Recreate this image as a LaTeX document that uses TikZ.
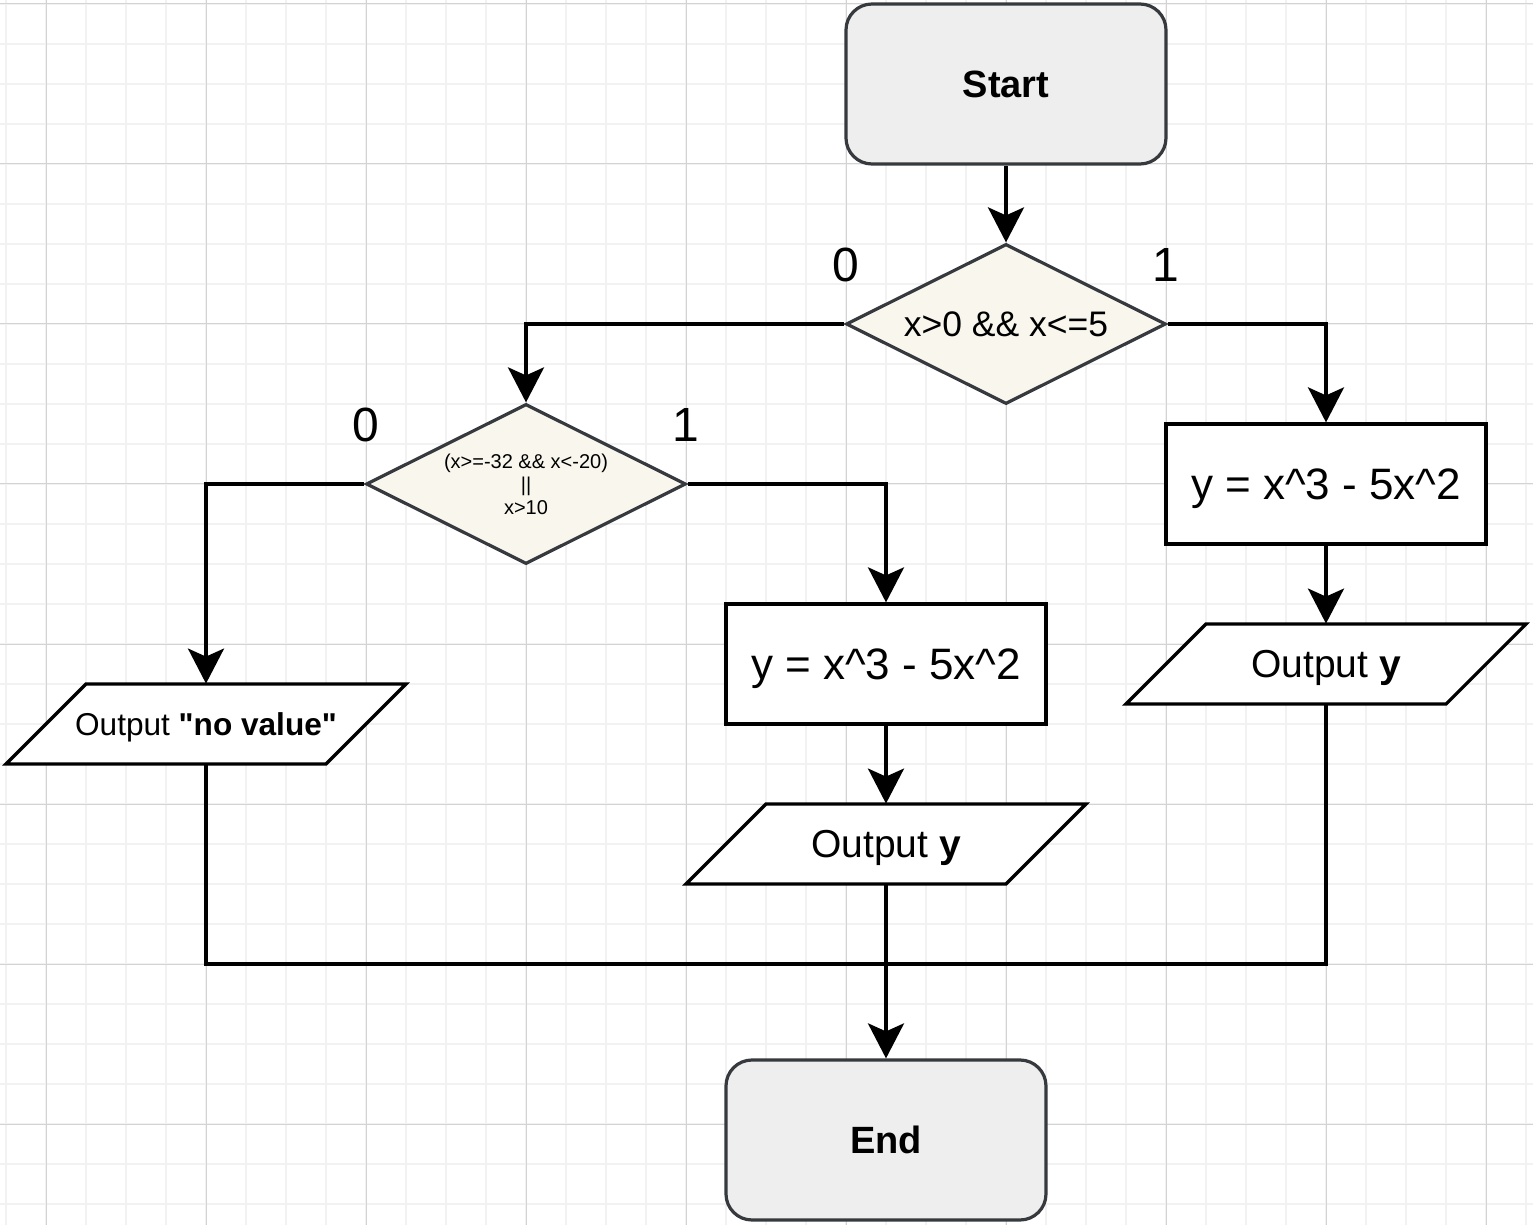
\documentclass[tikz,border=0pt]{standalone}
\usepackage{fontspec}
\setmainfont{Liberation Sans}[Ligatures=TeXOff]
\usetikzlibrary{shapes.geometric,arrows.meta,calc}
\definecolor{gridminor}{HTML}{F2F2F2}
\definecolor{gridmajor}{HTML}{D3D3D3}
\definecolor{termfill}{HTML}{EEEEEE}
\definecolor{termline}{HTML}{36393D}
\definecolor{decfill}{HTML}{F9F7ED}

\begin{document}
\begin{tikzpicture}[x=0.5pt,y=-0.5pt,
  terminal/.style={draw=termline, fill=termfill, line width=1.6pt, rounded corners=13pt,
    minimum width=160pt, minimum height=80pt, inner sep=0pt, text depth=0pt,
    font=\fontsize{19}{22}\selectfont\bfseries},
  decision/.style={draw=termline, fill=decfill, line width=1.6pt, diamond, aspect=2,
    minimum width=160pt, minimum height=80pt, inner sep=0pt},
  process/.style={draw=black, fill=white, line width=1.6pt, minimum width=160pt,
    minimum height=60pt, inner sep=0pt, text depth=0pt, font=\fontsize{22}{26}\selectfont},
  iobox/.style={minimum width=160pt, minimum height=40pt, inner sep=0pt, text depth=0pt},
  iooutline/.style={draw=black, fill=white, line width=1.6pt},
  flow/.style={line width=1.8pt, draw=black},
  arrow/.style={flow, -{Stealth[length=17.5pt, width=18pt, inset=4pt]}},
  branch/.style={font=\fontsize{24}{28}\selectfont, inner sep=0pt},
  minorline/.style={draw=gridminor, line width=0.7pt},
  majorline/.style={draw=gridmajor, line width=0.5pt}
]
% page frame
\useasboundingbox (0,0) rectangle (1533,1225);
\fill[white] (0,0) rectangle (1533,1225);

% background grid
\foreach \x in {6,46,...,1526} \draw[minorline] (\x,0) -- (\x,1225);
\foreach \y in {4,44,...,1224} \draw[minorline] (0,\y) -- (1533,\y);
\foreach \x in {46,206,...,1486} \draw[majorline] (\x,0) -- (\x,1225);
\foreach \y in {4,164,...,1124} \draw[majorline] (0,\y) -- (1533,\y);

% terminals and decisions
\node[terminal] (start) at (1006,84) {Start};
\node[decision, font=\fontsize{17.75}{20}\selectfont] (d1) at (1006,324) {x>0 \&\& x<=5};
\node[decision, align=center, font=\fontsize{10}{11.5}\selectfont] (d2) at (526,484)
  {(x>=-32 \&\& x<-20)\\||\\x>10};

% process boxes
\node[process] (r1) at (1326,484) {y = x\^{}3 - 5x\^{}2};
\node[process] (r2) at (886,664) {y = x\^{}3 - 5x\^{}2};

% output parallelograms: outline first, then the named text node
\coordinate (p1c) at (206,724);
\coordinate (p2c) at (886,844);
\coordinate (p3c) at (1326,664);
\foreach \c in {p1c,p2c,p3c}
  \path[iooutline] ($(\c)+(-120,-40)$) -- ($(\c)+(200,-40)$) -- ($(\c)+(120,40)$)
    -- ($(\c)+(-200,40)$) -- cycle;
\node[iobox, font=\fontsize{15.8}{18}\selectfont] (p1) at (p1c)
  {Output \textbf{"no value"}};
\node[iobox, font=\fontsize{19.5}{22}\selectfont] (p2) at (p2c) {Output \textbf{y}};
\node[iobox, font=\fontsize{19.5}{22}\selectfont] (p3) at (p3c) {Output \textbf{y}};

\node[terminal] (end) at (886,1140) {End};

% branch labels
\node[branch] (l0a) at (846,265) {0};
\node[branch] (l1a) at (1166,265) {1};
\node[branch] (l0b) at (366,425) {0};
\node[branch] (l1b) at (686,425) {1};

% connectors
\coordinate (join) at (886,964);
\draw[arrow] (start.south) -- (d1.north);
\draw[arrow] (d1.west) -| (d2.north);
\draw[arrow] (d1.east) -| (r1.north);
\draw[arrow] (d2.west) -| (p1.north);
\draw[arrow] (d2.east) -| (r2.north);
\draw[arrow] (r1.south) -- (p3.north);
\draw[arrow] (r2.south) -- (p2.north);
\draw[flow] (p1.south) |- (join);
\draw[flow] (p3.south) |- (join);
\draw[arrow] (p2.south) -- (end.north);
\end{tikzpicture}
\end{document}
